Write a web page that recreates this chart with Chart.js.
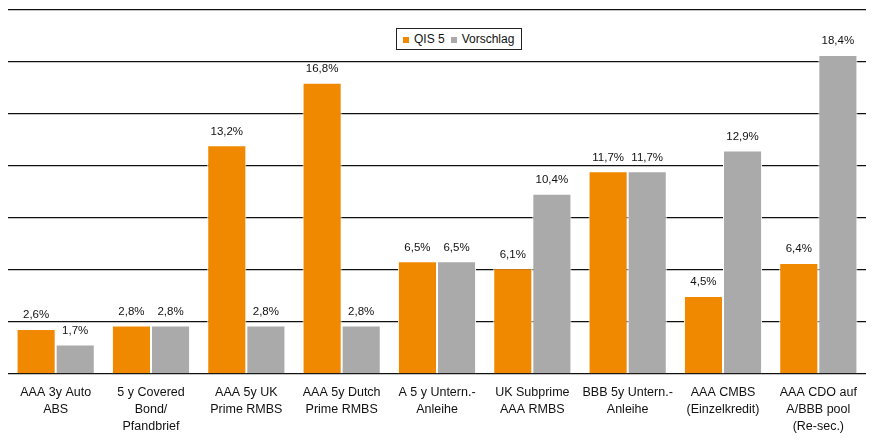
<!DOCTYPE html>
<html>
<head>
<meta charset="utf-8">
<script src="https://cdn.jsdelivr.net/npm/chart.js@4"></script>
<style>
  html, body { margin: 0; padding: 0; background: #fff; }
  #wrap { position: relative; width: 874px; height: 444px; }
  #legend {
    position: absolute; left: 396px; top: 28px; height: 20px;
    border: 1px solid #222; background: #fff; padding: 0 7px 0 6px;
    font: 12px "Liberation Sans", Arial, sans-serif; color: #111;
    display: flex; align-items: center; white-space: nowrap;
  }
  #legend span.box { display: inline-block; width: 6px; height: 6px; margin-right: 5px; }
  #legend span.item { margin-right: 6px; }
  #legend span.item:last-child { margin-right: 0; }
</style>
</head>
<body>
<div id="wrap">
  <canvas id="myChart" width="874" height="444"></canvas>
  <div id="legend"></div>
</div>
<script>
// Kategorien (mehrzeilig)
var categories = [
    ['AAA 3y Auto', 'ABS'],
    ['5 y Covered', 'Bond/', 'Pfandbrief'],
    ['AAA 5y UK', 'Prime RMBS'],
    ['AAA 5y Dutch', 'Prime RMBS'],
    ['A 5 y Untern.-', 'Anleihe'],
    ['UK Subprime', 'AAA RMBS'],
    ['BBB 5y Untern.-', 'Anleihe'],
    ['AAA CMBS', '(Einzelkredit)'],
    ['AAA CDO auf', 'A/BBB pool', '(Re-sec.)']
];

var qis5 = [2.6, 2.8, 13.2, 16.8, 6.5, 6.1, 11.7, 4.5, 6.4];
var vorschlag = [1.7, 2.8, 2.8, 2.8, 6.5, 10.4, 11.7, 12.9, 18.4];

var seriesNames = ['QIS 5', 'Vorschlag'];
var seriesColors = ['#F08800', '#AAAAAA'];

var fontFamily = '"Liberation Sans", Arial, sans-serif';

// Werte ueber den Balken, deutsches Format
var valueLabels = {
    id: 'valueLabels',
    afterDatasetsDraw: function (chart) {
        var ctx = chart.ctx;
        ctx.save();
        ctx.font = '11.5px ' + fontFamily;
        ctx.fillStyle = '#111';
        ctx.textAlign = 'center';
        ctx.textBaseline = 'bottom';
        chart.data.datasets.forEach(function (ds, i) {
            chart.getDatasetMeta(i).data.forEach(function (bar, j) {
                var txt = ds.data[j].toFixed(1).replace('.', ',') + '%';
                ctx.fillText(txt, bar.x, bar.y - 8);
            });
        });
        ctx.restore();
    }
};

var ctx = document.getElementById('myChart').getContext('2d');

var myChart = new Chart(ctx, {
    type: 'bar',
    data: {
        labels: categories,
        datasets: [{
            label: seriesNames[0],
            data: qis5,
            backgroundColor: seriesColors[0],
            borderColor: '#ffffff',
            borderWidth: 1,
            categoryPercentage: 0.82,
            barPercentage: 1.0
        }, {
            label: seriesNames[1],
            data: vorschlag,
            backgroundColor: seriesColors[1],
            borderColor: '#ffffff',
            borderWidth: 1,
            categoryPercentage: 0.82,
            barPercentage: 1.0
        }]
    },
    options: {
        responsive: false,
        animation: false,
        layout: {
            padding: { left: 8, right: 8, top: 10, bottom: 7 }
        },
        plugins: {
            legend: { display: false },
            tooltip: { enabled: false }
        },
        scales: {
            x: {
                grid: { display: false },
                border: { display: false },
                ticks: {
                    color: '#111',
                    padding: 2,
                    maxRotation: 0,
                    autoSkip: false,
                    font: { family: fontFamily, size: 12.5, lineHeight: 1.36 }
                }
            },
            y: {
                min: 0,
                max: 21,
                ticks: { display: false, stepSize: 3 },
                border: { display: false },
                grid: { color: '#111', lineWidth: 1.3, drawTicks: false }
            }
        }
    },
    plugins: [valueLabels]
});

// Legende mit Rahmen
var legend = document.getElementById('legend');
seriesNames.forEach(function (name, i) {
    var item = document.createElement('span');
    item.className = 'item';
    item.innerHTML = '<span class="box" style="background:' + seriesColors[i] + '"></span>' + name;
    legend.appendChild(item);
});
</script>
</body>
</html>
